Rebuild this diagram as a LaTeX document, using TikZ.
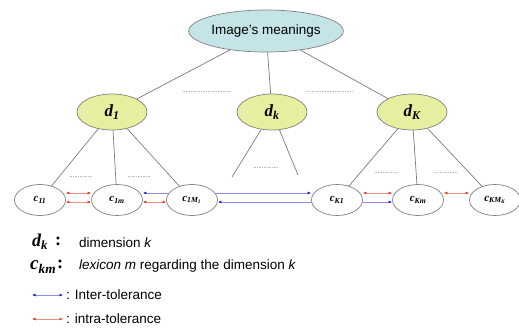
\documentclass[tikz,border=0pt]{standalone}
\usepackage{fontspec}
\setmainfont{Liberation Sans}
\newfontfamily\tms{Liberation Serif}
\usetikzlibrary{arrows.meta,backgrounds,shapes.geometric}
\newcommand\symb[2]{{\tms\bfseries\itshape #1\textsubscript{#2}}}
\definecolor{topfill}{HTML}{C4E4E8}
\definecolor{dfill}{HTML}{E8EEA0}
\definecolor{edgegray}{HTML}{808080}
\definecolor{linkgray}{HTML}{7A7A7A}
\definecolor{interline}{HTML}{8C8CF5}
\definecolor{interhead}{HTML}{2020C8}
\definecolor{intraline}{HTML}{F29080}
\definecolor{intrahead}{HTML}{E03A28}
\tikzset{
  topnode/.style={ellipse,draw=edgegray,fill=topfill,line width=0.7pt,minimum width=138pt,minimum height=42pt,inner sep=0pt,font=\fontsize{13.5}{15}\selectfont},
  dimnode/.style={ellipse,draw=edgegray,fill=dfill,line width=0.7pt,minimum width=70pt,minimum height=36pt,inner sep=0pt,font=\fontsize{17}{19}\selectfont},
  lexnode/.style={ellipse,draw=edgegray,fill=white,line width=0.7pt,minimum width=51pt,minimum height=31pt,inner sep=0pt,font=\fontsize{11}{13}\selectfont},
  link/.style={draw=linkgray,line width=0.7pt},
  dots/.style={draw=gray!55,line width=0.6pt,dash pattern=on 1.5pt off 1pt},
  inter/.style={draw=interline,line width=0.6pt,{Latex[length=3.5pt,width=3pt,color=interhead]}-{Latex[length=3.5pt,width=3pt,color=interhead]}},
  intra/.style={draw=intraline,line width=0.6pt,{Latex[length=3.5pt,width=3pt,color=intrahead]}-{Latex[length=3.5pt,width=3pt,color=intrahead]}},
  legtext/.style={anchor=west,inner sep=0pt,font=\fontsize{13.5}{15}\selectfont},
  legsym/.style={inner sep=0pt,font=\fontsize{18}{20}\selectfont},
  legsymc/.style={anchor=west,inner sep=0pt,font=\fontsize{19}{21}\selectfont}
}
\begin{document}
\begin{tikzpicture}[x=1pt,y=-1pt]
\useasboundingbox (0,0) rectangle (519,329);
% nodes
\node[topnode] (top) at (266,31) {Image's meanings};
\node[dimnode] (d1) at (112,112) {\symb{d}{1}};
\node[dimnode] (dk) at (272,112) {\symb{d}{k}};
\node[dimnode] (dK) at (412,112) {\symb{d}{K}};
\node[lexnode] (c11) at (40,200) {\symb{c}{11}};
\node[lexnode] (c1m) at (117,200) {\symb{c}{1m}};
\node[lexnode] (c1M) at (192,200) {\symb{c}{1M\textsubscript{1}}};
\node[lexnode] (cK1) at (337,200) {\symb{c}{K1}};
\node[lexnode] (cKm) at (418,200) {\symb{c}{Km}};
\node[lexnode] (cKM) at (495,200) {\symb{c}{KM\textsubscript{K}}};
\coordinate (dkl) at (232,177);
\coordinate (dkr) at (298,175);
\begin{scope}[on background layer]
\draw[link] (top) -- (d1);
\draw[link] (top) -- (dk);
\draw[link] (top) -- (dK);
\draw[link] (d1) -- (c11);
\draw[link] (d1) -- (c1m);
\draw[link] (d1) -- (c1M);
\draw[link] (dK) -- (cK1);
\draw[link] (dK) -- (cKm);
\draw[link] (dK) -- (cKM);
\draw[link] (dk) -- (dkl);
\draw[link] (dk) -- (dkr);
\draw[inter] ([yshift=7pt]c1m.east) -- ([yshift=7pt]cK1.west);
\draw[inter] ([yshift=-2pt]c1M.east) -- ([yshift=-2pt]cKm.west);
\end{scope}
% dotted fillers
\draw[dots] (183,91) -- (230,91);
\draw[dots] (307,91) -- (353,91);
\draw[dots] (70,176) -- (92,176);
\draw[dots] (128,176) -- (150,176);
\draw[dots] (254,167) -- (278,167);
\draw[dots] (375,172) -- (397,172);
\draw[dots] (435,172) -- (457,172);
% intra tolerance
\draw[intra] ([yshift=7pt]c11.east) -- ([yshift=7pt]c1m.west);
\draw[intra] ([yshift=-2pt]c11.east) -- ([yshift=-2pt]c1m.west);
\draw[intra] ([yshift=-2pt]c1m.east) -- ([yshift=-2pt]c1M.west);
\draw[intra] ([yshift=7pt]cK1.east) -- ([yshift=7pt]cKm.west);
\draw[intra] ([yshift=7pt]cKm.east) -- ([yshift=7pt]cKM.west);
% legend
\node[legsym] (ld) at (40,242) {\symb{d}{k}};
\node[legsym] (ldc) at (58,241) {\tms\bfseries :};
\node[legtext] (ldt) at (79,243) {dimension \textit{k}};
\node[legsymc] (lc) at (30,267) {\symb{c}{km}};
\node[legsym] (lcc) at (60,264) {\tms\bfseries :};
\node[legtext] (lct) at (79,266) {\textit{lexicon m} regarding the dimension \textit{k}};
\coordinate (la1) at (32,295);
\coordinate (la2) at (63,295);
\draw[inter] (la1) -- (la2);
\node[legtext] (lat) at (66,295) {: Inter-tolerance};
\coordinate (lb1) at (32,319);
\coordinate (lb2) at (63,319);
\draw[intra] (lb1) -- (lb2);
\node[legtext] (lbt) at (66,319) {: intra-tolerance};
\end{tikzpicture}
\end{document}
